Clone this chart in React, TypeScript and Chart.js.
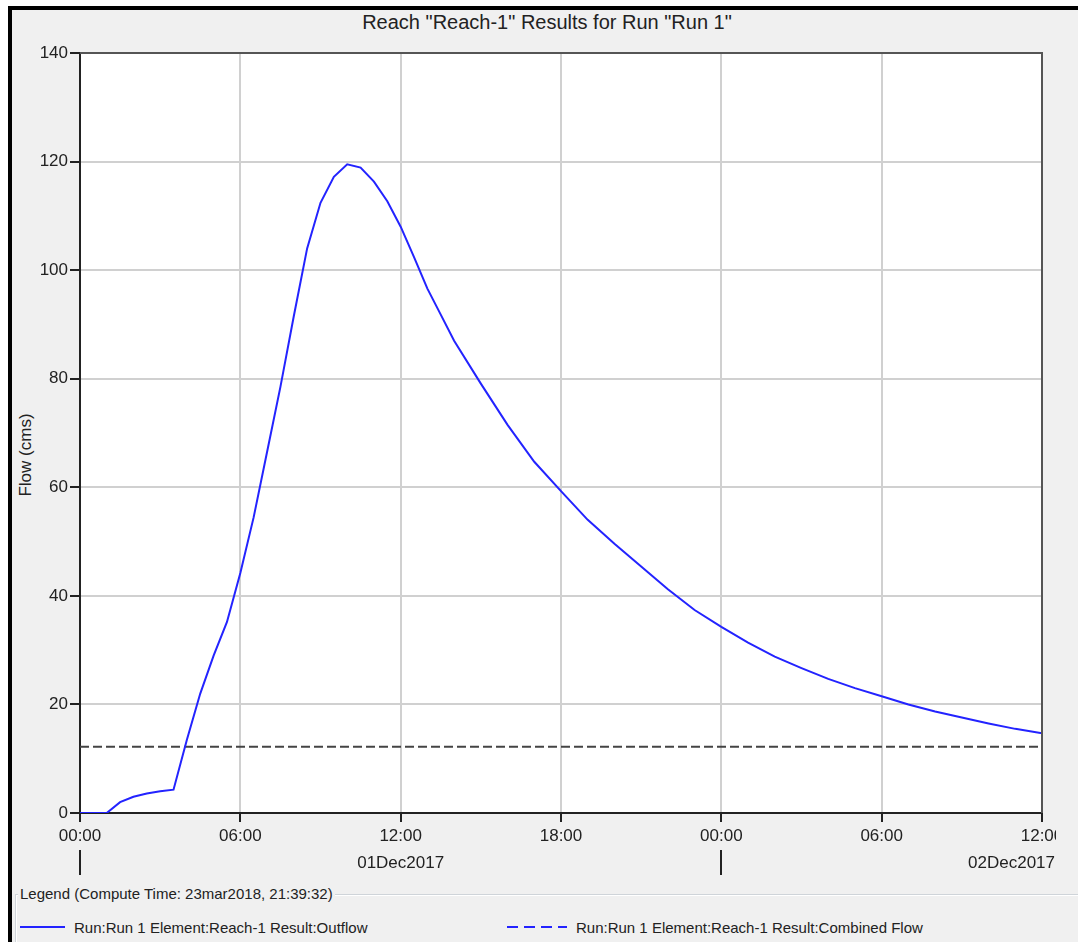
import React, { useEffect, useRef } from "react";
import { Chart, registerables } from "chart.js";

Chart.register(...registerables);

const chartTitle = 'Reach "Reach-1" Results for Run "Run 1"';
const yAxisTitle = "Flow (cms)";
const legendTitle = "Legend (Compute Time: 23mar2018, 21:39:32)";
const outflowName = "Run:Run 1 Element:Reach-1 Result:Outflow";
const combinedName = "Run:Run 1 Element:Reach-1 Result:Combined Flow";

// hours since 01Dec2017 00:00
const outflowHours = [
  0, 0.5, 1, 1.5, 2, 2.5, 3, 3.5, 4, 4.5, 5, 5.5, 6, 6.5, 7, 7.5, 8, 8.5, 9, 9.5,
  10, 10.5, 11, 11.5, 12, 12.5, 13, 13.5, 14, 15, 16, 17, 18, 19, 20, 21, 22, 23,
  24, 25, 26, 27, 28, 29, 30, 31, 32, 33, 34, 35, 36,
];
const outflowValues = [
  0, 0, 0, 2.0, 3.0, 3.6, 4.0, 4.3, 13.5, 22.0, 29.0, 35.2, 44.2, 54.5, 66.5, 78.5,
  91.5, 104.0, 112.4, 117.2, 119.5, 118.9, 116.3, 112.7, 108.0, 102.4, 96.6, 91.8,
  87.0, 79.1, 71.5, 64.7, 59.3, 54.0, 49.6, 45.4, 41.2, 37.4, 34.3, 31.4, 28.8,
  26.7, 24.7, 23.0, 21.5, 20.0, 18.7, 17.6, 16.5, 15.5, 14.7,
];
const combinedHours = [0, 36];
const combinedValues = [12.2, 12.2];

const xMin = 0;
const xMax = 36;
const xStep = 6;
const yMin = 0;
const yMax = 140;
const yStep = 20;

const dateLabelHours = [12, 36];
const dateLabels = ["01Dec2017", "02Dec2017"];
const dayBoundaryHours = [0, 24];

const FONT = '"Liberation Sans", Arial, sans-serif';
const TEXT = "#222";

const extrasPlugin = {
  id: "extras",
  beforeDraw(chart: any) {
    const { ctx, chartArea: a } = chart;
    ctx.save();
    ctx.fillStyle = "#fff";
    ctx.fillRect(a.left, a.top, a.right - a.left, a.bottom - a.top);
    ctx.restore();
  },
  afterDraw(chart: any) {
    const { ctx, chartArea: a, scales } = chart;
    const x = scales.x;
    ctx.save();
    // plot frame top/right
    ctx.strokeStyle = "#555";
    ctx.lineWidth = 2;
    ctx.beginPath();
    ctx.moveTo(a.left, a.top);
    ctx.lineTo(a.right, a.top);
    ctx.lineTo(a.right, a.bottom);
    ctx.stroke();
    // day boundary markers
    ctx.strokeStyle = "#222";
    ctx.lineWidth = 2;
    dayBoundaryHours.forEach((h) => {
      const px = Math.round(x.getPixelForValue(h));
      ctx.beginPath();
      ctx.moveTo(px, a.bottom + 37);
      ctx.lineTo(px, a.bottom + 62);
      ctx.stroke();
    });
    // date labels
    ctx.font = `17px ${FONT}`;
    ctx.fillStyle = TEXT;
    ctx.textAlign = "center";
    ctx.textBaseline = "middle";
    dateLabelHours.forEach((h, i) => {
      const w = ctx.measureText(dateLabels[i]).width;
      let px = x.getPixelForValue(h);
      px = Math.min(px, chart.width - 1 - w / 2);
      ctx.fillText(dateLabels[i], px, a.bottom + 50);
    });
    ctx.restore();
  },
};

function ChartCanvas() {
  const ref = useRef<HTMLCanvasElement | null>(null);
  useEffect(() => {
    if (!ref.current) return;
    const outflow = outflowHours.map((h, i) => ({ x: h, y: outflowValues[i] }));
    const combined = combinedHours.map((h, i) => ({ x: h, y: combinedValues[i] }));
    const chart = new Chart(ref.current, {
      type: "line",
      data: {
        datasets: [
          {
            label: outflowName,
            data: outflow,
            borderColor: "rgb(35,35,255)",
            borderWidth: 2,
            pointRadius: 0,
            tension: 0,
            fill: false,
          },
          {
            label: combinedName,
            data: combined,
            borderColor: "#444",
            borderWidth: 2,
            borderDash: [9, 4],
            pointRadius: 0,
            tension: 0,
            fill: false,
          },
        ],
      },
      options: {
        responsive: false,
        animation: false,
        devicePixelRatio: 1,
        layout: { padding: { top: 53, right: 14, left: 12, bottom: 0 } },
        plugins: {
          legend: { display: false },
          title: { display: false },
          tooltip: { enabled: false },
        },
        scales: {
          x: {
            type: "linear",
            min: xMin,
            max: xMax,
            ticks: {
              stepSize: xStep,
              color: TEXT,
              font: { family: FONT, size: 17 },
              padding: 4,
              maxRotation: 0,
              autoSkip: false,
              callback: (v: any) => String(Number(v) % 24).padStart(2, "0") + ":00",
            },
            grid: { color: "#d0d0d0", lineWidth: 2, tickLength: 9, tickColor: "#222" },
            border: { color: "#222", width: 2 },
            afterFit: (s: any) => {
              s.height = 67;
              s.paddingLeft = 0;
              s.paddingRight = 0;
            },
          },
          y: {
            type: "linear",
            min: yMin,
            max: yMax,
            ticks: {
              stepSize: yStep,
              color: TEXT,
              font: { family: FONT, size: 17 },
              padding: 2,
            },
            grid: { color: "#d0d0d0", lineWidth: 2, tickLength: 10, tickColor: "#222" },
            border: { color: "#222", width: 2 },
            afterFit: (s: any) => {
              s.width = 68;
              s.paddingTop = 0;
              s.paddingBottom = 0;
            },
          },
        },
      },
      plugins: [extrasPlugin],
    });
    return () => chart.destroy();
  }, []);
  return (
    <canvas
      ref={ref}
      width={1056}
      height={880}
      style={{ position: "absolute", left: 0, top: 0, width: 1056, height: 880 }}
    />
  );
}

export default function App() {
  const txt: React.CSSProperties = {
    position: "absolute",
    fontFamily: FONT,
    color: TEXT,
    whiteSpace: "nowrap",
    lineHeight: 1,
  };
  return (
    <div
      style={{
        position: "absolute",
        left: 0,
        top: 0,
        width: 1078,
        height: 942,
        background: "#fff",
        overflow: "hidden",
      }}
    >
      <div
        style={{
          position: "absolute",
          left: 8,
          top: 6,
          width: 1070,
          height: 936,
          background: "#f0f0f0",
          borderTop: "4px solid #000",
          borderLeft: "4px solid #000",
          boxSizing: "border-box",
        }}
      />
      <div style={{ ...txt, left: 547, top: 22, fontSize: 20, transform: "translate(-50%, -50%)" }}>
        {chartTitle}
      </div>
      <div
        style={{
          ...txt,
          left: 25,
          top: 455,
          fontSize: 17,
          transform: "translate(-50%, -50%) rotate(-90deg)",
        }}
      >
        {yAxisTitle}
      </div>
      <ChartCanvas />
      {/* legend group */}
      <div
        style={{
          position: "absolute",
          left: 15,
          top: 894,
          width: 1063,
          height: 60,
          borderTop: "1px solid #cfd4d9",
          borderLeft: "1px solid #cfd4d9",
          boxShadow: "inset 1px 1px 0 #fff",
        }}
      />
      <div
        style={{
          ...txt,
          left: 18,
          top: 893,
          fontSize: 15,
          padding: "0 2px",
          background: "#f0f0f0",
          transform: "translateY(-50%)",
        }}
      >
        {legendTitle}
      </div>
      <div style={{ position: "absolute", left: 20, top: 926, width: 45, height: 2, background: "rgb(35,35,255)" }} />
      <div style={{ ...txt, left: 74, top: 927, fontSize: 15, transform: "translateY(-50%)" }}>{outflowName}</div>
      <div
        style={{
          position: "absolute",
          left: 507,
          top: 926,
          width: 60,
          height: 2,
          background: "repeating-linear-gradient(to right, rgb(35,35,255) 0 11px, transparent 11px 17px)",
        }}
      />
      <div style={{ ...txt, left: 576, top: 927, fontSize: 15, transform: "translateY(-50%)" }}>{combinedName}</div>
    </div>
  );
}
